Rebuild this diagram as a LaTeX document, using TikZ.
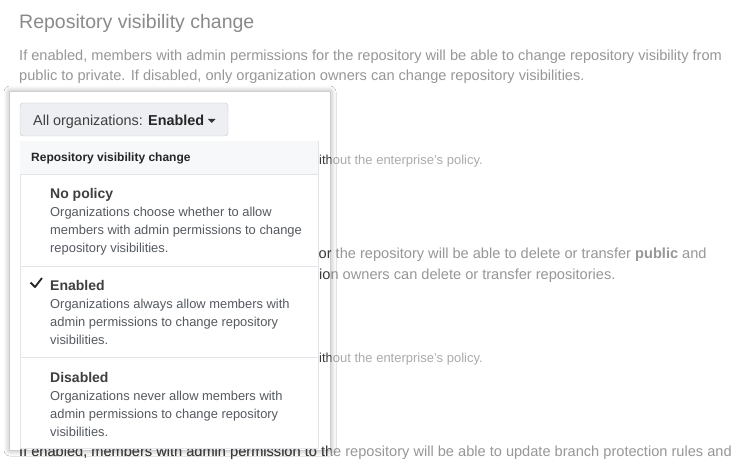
\documentclass[tikz,border=0pt]{standalone}
\usepackage{fontspec}
\setmainfont{Liberation Sans}
\usetikzlibrary{shadows.blur}
\definecolor{pagefade}{HTML}{979797}
\definecolor{titlefade}{HTML}{8A8A8A}
\definecolor{notefade}{HTML}{ABABAB}
\definecolor{pagedark}{HTML}{3A3A3A}
\definecolor{menuborder}{HTML}{E1E4E8}
\definecolor{menuhead}{HTML}{F6F8FA}
\definecolor{btnfill}{HTML}{EDEFF2}
\definecolor{btnborder}{HTML}{C4C8CC}
\definecolor{itemdark}{HTML}{3F3F3F}
\definecolor{itemdesc}{HTML}{555A60}
\tikzset{
    txt/.style={anchor=base west, inner sep=0pt, font=\fontsize{#1}{#1}\selectfont},
    txt/.default=14.6,
    itemtitle/.style={txt=14, font=\fontsize{14}{14}\selectfont\bfseries, text=itemdark},
    itemline/.style={txt=12.9, text=itemdesc},
    menuline/.style={draw=menuborder, line width=0.8pt}
}
% background lines of the page, drawn once faded and once clear
\newcommand{\pageLines}[3] {
	\node[txt=13, text=#3] (#1note) at (319,164.5) {ithout the enterprise's policy.};
	\node[txt, text=#2] (#1del) at (318.5,258) {or the repository will be able to delete or transfer \textbf{public} and};
	\node[txt, text=#2] (#1own) at (319,279) {ion owners can delete or transfer repositories.};
	\node[txt=13, text=#3] (#1note2) at (319,362.5) {ithout the enterprise's policy.};
	\node[txt, text=#2] (#1branch) at (19,456.5) {If enabled, members with admin permission to the repository will be able to update branch protection rules and};
}
\newcommand{\menuItem}[6] {
	\node[itemtitle] (#1) at (50,#2) {#3};
	\node[itemline] (#1a) at (50,#2+18.5) {#4};
	\node[itemline] (#1b) at (50,#2+36.5) {#5};
	\node[itemline] (#1c) at (50,#2+54.5) {#6};
}

\begin{document}
\begin{tikzpicture}[x=1pt, y=-1pt]
		\useasboundingbox[fill=white] (0,0) rectangle (731,468);

		% Page behind the overlay
		\node[txt=19.5, text=titlefade] (title) at (19,29) {Repository visibility change};
		\node[txt, text=pagefade] (para1) at (19,61) {If enabled, members with admin permissions for the repository will be able to change repository visibility from};
		\node[txt, text=pagefade] (para2) at (19,81) {public to private. If disabled, only organization owners can change repository visibilities.};
		\pageLines{fade}{pagefade}{notefade}

		% Clear window
		\fill[white, blur shadow={shadow xshift=0pt, shadow yshift=0pt, shadow blur radius=6pt, shadow opacity=40}] (10,92) rectangle (330,450);
		\begin{scope}
			\clip (10,92) rectangle (330,468);
			\pageLines{clear}{pagedark}{pagedark}
		\end{scope}

		% Button
		\draw[fill=btnfill, draw=btnborder, rounded corners=3pt] (20,103) rectangle (228,136);
		\node[txt=14.4, text=itemdark] (btn) at (33,125.5) {All organizations: \textbf{\color{black!85}Enabled}};
		\fill[black!80] (208,119) -- (215.5,119) -- (211.75,123) -- cycle;

		% Menu
		\draw[fill=white, draw=menuborder, line width=0.8pt] (20,141) rectangle (318,448);
		\fill[menuhead] (20.4,141.4) rectangle (317.6,174);
		\draw[menuline] (20,174) -- (318,174);
		\node[txt=12, font=\fontsize{12}{12}\selectfont\bfseries, text=black!85] (head) at (31,161.5) {Repository visibility change};

		\menuItem{nopolicy}{198}{No policy}{Organizations choose whether to allow}{members with admin permissions to change}{repository visibilities.}
		\draw[menuline] (20,266) -- (318,266);
		\menuItem{enabled}{290}{Enabled}{Organizations always allow members with}{admin permissions to change repository}{visibilities.}
		\draw[black!85, line width=1.8pt, line join=round] (30.5,282.5) -- (35,287) -- (42,278);
		\draw[menuline] (20,357) -- (318,357);
		\menuItem{disabled}{382}{Disabled}{Organizations never allow members with}{admin permissions to change repository}{visibilities.}

	\end{tikzpicture}
\end{document}
